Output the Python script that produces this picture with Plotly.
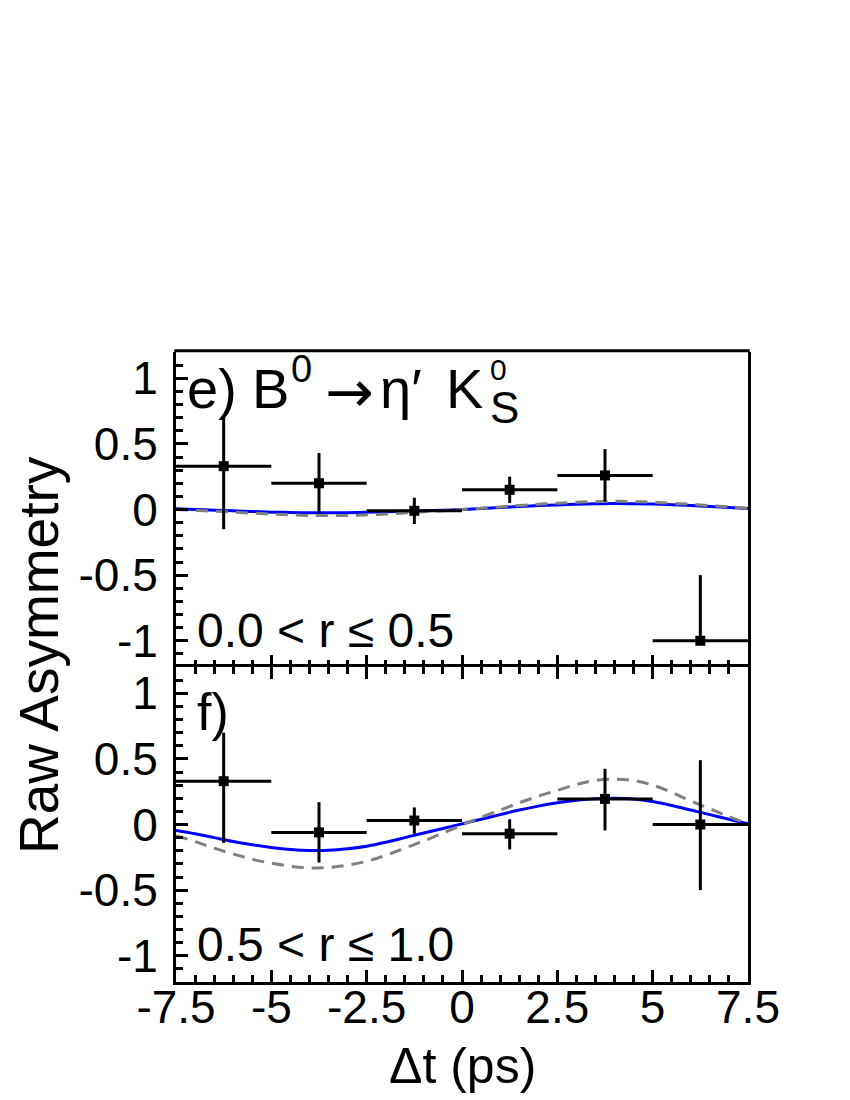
import plotly.graph_objects as go
from plotly.subplots import make_subplots

# data points (bin centres, raw asymmetry, errors)
dt_bins = [-6.25, -3.75, -1.25, 1.25, 3.75, 6.25]
bin_half = [1.25, 1.25, 1.25, 1.25, 1.25, 1.25]

asym_e = [0.33, 0.20, -0.01, 0.15, 0.26, -1.0]
err_up_e = [0.38, 0.23, 0.10, 0.10, 0.20, 0.50]
err_dn_e = [0.48, 0.23, 0.10, 0.10, 0.20, 0.0]

asym_f = [0.33, -0.06, 0.03, -0.07, 0.195, 0.0]
err_up_f = [0.37, 0.23, 0.10, 0.11, 0.23, 0.49]
err_dn_f = [0.47, 0.23, 0.10, 0.12, 0.24, 0.50]

# fit curves
dt_curve = [-7.5, -7, -6.5, -6, -5.5, -5, -4.5, -4, -3.5, -3, -2.5, -2, -1.5, -1, -0.5,
            0, 0.5, 1, 1.5, 2, 2.5, 3, 3.5, 4, 4.5, 5, 5.5, 6, 6.5, 7, 7.5]
fit_e = [0.005, 0.0, -0.005, -0.01, -0.015, -0.02, -0.023, -0.025, -0.025, -0.024, -0.021,
         -0.018, -0.014, -0.01, -0.005, 0.0, 0.008, 0.015, 0.023, 0.03, 0.035, 0.04, 0.043,
         0.045, 0.044, 0.042, 0.037, 0.03, 0.023, 0.015, 0.008]
ref_e = [0.0, -0.007, -0.013, -0.02, -0.028, -0.035, -0.041, -0.045, -0.046, -0.045, -0.041,
         -0.035, -0.027, -0.018, -0.009, 0.0, 0.01, 0.02, 0.03, 0.04, 0.048, 0.055, 0.06,
         0.062, 0.06, 0.055, 0.048, 0.04, 0.03, 0.02, 0.01]
fit_f = [-0.045, -0.07, -0.10, -0.13, -0.155, -0.175, -0.19, -0.198, -0.197, -0.185, -0.165,
         -0.135, -0.10, -0.065, -0.03, 0.005, 0.04, 0.075, 0.11, 0.14, 0.165, 0.185, 0.197,
         0.2, 0.195, 0.175, 0.145, 0.11, 0.075, 0.04, 0.005]
ref_f = [-0.085, -0.13, -0.18, -0.225, -0.265, -0.295, -0.318, -0.33, -0.328, -0.31, -0.28,
         -0.235, -0.18, -0.125, -0.065, -0.005, 0.055, 0.11, 0.165, 0.215, 0.26, 0.305, 0.335,
         0.345, 0.335, 0.3, 0.245, 0.18, 0.12, 0.06, 0.005]

x_ticks = [-7.5, -5, -2.5, 0, 2.5, 5, 7.5]
x_ticktext = ['-7.5', '-5', '-2.5', '0', '2.5', '5', '7.5']
y_ticks = [-1, -0.5, 0, 0.5, 1]
y_ticktext = ['-1', '-0.5', '0', '0.5', '1']

FONT = 'Liberation Sans, Arial, Helvetica, sans-serif'
W, H = 850, 1100
OFF = 8  # default page margin around the plot div
L, R, T, B = 176 - OFF, 110, 352 - OFF, 126


def px(x):
    # page pixel -> paper fraction
    return (x - OFF - L) / (W - L - R)


def py(y):
    return (H - B - (y - OFF)) / (H - T - B)


fig = make_subplots(rows=2, cols=1, shared_xaxes=True, vertical_spacing=0)

panels = [(1, fit_e, ref_e, asym_e, err_up_e, err_dn_e),
          (2, fit_f, ref_f, asym_f, err_up_f, err_dn_f)]
for row, fit, ref, asym, eu, ed in panels:
    fig.add_trace(go.Scatter(x=dt_curve, y=fit, mode='lines', line_shape='spline',
                             line=dict(color='#0000ff', width=3), showlegend=False), row=row, col=1)
    fig.add_trace(go.Scatter(x=dt_curve, y=ref, mode='lines', line_shape='spline',
                             line=dict(color='#808080', width=3, dash='12px,8px'),
                             showlegend=False), row=row, col=1)
    fig.add_trace(go.Scatter(
        x=dt_bins, y=asym, mode='markers',
        marker=dict(symbol='square', size=10, color='black'),
        error_x=dict(type='data', array=bin_half, color='black', thickness=3, width=0),
        error_y=dict(type='data', symmetric=False, array=eu, arrayminus=ed,
                     color='black', thickness=3, width=0),
        showlegend=False), row=row, col=1)

tick_font = dict(family=FONT, size=46, color='black')
for row in (1, 2):
    fig.update_xaxes(range=[-7.5, 7.5], tickvals=x_ticks, ticktext=x_ticktext,
                     ticks='inside', ticklen=12, tickwidth=2.5, tickcolor='black',
                     minor=dict(dtick=0.5, tick0=-7.5, ticks='inside', ticklen=7,
                                tickwidth=2.5, tickcolor='black'),
                     showline=(row == 2), linecolor='black', linewidth=3,
                     mirror='ticks' if row == 2 else False,
                     showgrid=False, zeroline=False, tickfont=tick_font,
                     ticklabelstandoff=-17,
                     showticklabels=(row == 2), row=row, col=1)
    fig.update_yaxes(range=[-1.2, 1.2], tickvals=y_ticks, ticktext=y_ticktext,
                     ticks='inside', ticklen=12, tickwidth=2.5, tickcolor='black',
                     minor=dict(dtick=0.1, tick0=0, ticks='inside', ticklen=7,
                                tickwidth=2.5, tickcolor='black'),
                     showline=True, linecolor='black', linewidth=3, mirror=True,
                     showgrid=False, zeroline=False, tickfont=tick_font,
                     ticklabelstandoff=6, row=row, col=1)

# top edge of the upper panel
fig.add_shape(type='line', xref='paper', yref='paper', x0=-0.003, x1=1.003, y0=1.002, y1=1.002,
              line=dict(color='black', width=3))


def label(text, x, y, size, family=FONT, anchor='left', angle=0):
    return dict(text=text, x=px(x), y=py(y), xanchor=anchor, yanchor='middle',
                textangle=angle, xref='paper', yref='paper', showarrow=False,
                align='left', font=dict(family=family, size=size, color='black'))


annotations = [
    # e) B0 -> eta' K0S, built piece by piece
    label('e)', 185, 388, 56),
    label('B', 250, 388, 56),
    label('0', 289, 369, 38),
    label('\u2192', 323, 392, 58, family='DejaVu Sans, ' + FONT),
    label('\u03b7\u2032', 378, 388, 56),
    label('K', 444, 388, 56),
    # stacked super/subscript of K
    label('<span style="font-size:30px">0</span><br>'
          '<span style="font-size:44px">S</span>', 488, 392, 33),
    label('0.0 < r \u2264 0.5', 195, 630, 48),
    label('f)', 195, 712, 52),
    label('0.5 < r \u2264 1.0', 195, 944, 48),
    label('Raw Asymmetry', 39, 655, 55, anchor='center', angle=-90),
    label('\u0394t (ps)', 462, 1066, 50, anchor='center'),
]

fig.update_layout(
    width=W, height=H,
    margin=dict(l=L, r=R, t=T, b=B),
    paper_bgcolor='white', plot_bgcolor='white',
    annotations=annotations,
    showlegend=False,
)

fig.write_html("out.html")
